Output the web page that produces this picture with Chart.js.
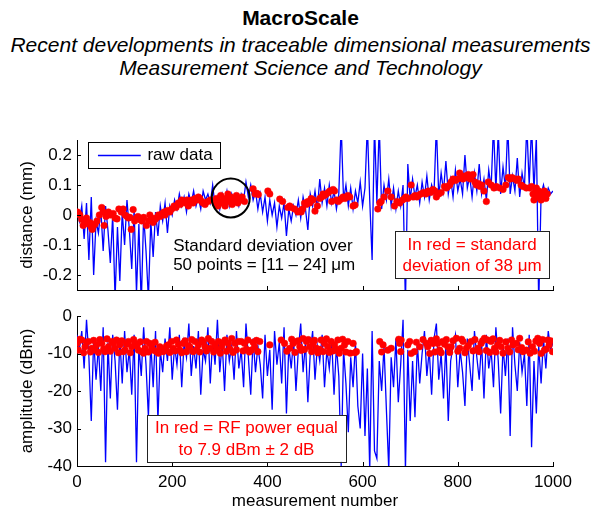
<!DOCTYPE html>
<html><head><meta charset="utf-8">
<script src="https://cdn.jsdelivr.net/npm/chart.js@4.4.1/dist/chart.umd.min.js"></script>
<style>
html,body{margin:0;padding:0;background:#fff;}
body{width:601px;height:512px;position:relative;overflow:hidden;font-family:"Liberation Sans",Arial,sans-serif;color:#000;}
#t1{position:absolute;left:0;width:601px;top:6px;text-align:center;font-weight:bold;font-size:21px;line-height:24px;}
#t2{position:absolute;left:0;width:601px;top:33px;text-align:center;font-style:italic;font-size:21px;line-height:23px;}
canvas{position:absolute;left:0;top:0;}
</style></head><body>
<div id="t1">MacroScale</div>
<div id="t2">Recent developments in traceable dimensional measurements<br>Measurement Science and Technology</div>
<canvas id="c1" width="601" height="512"></canvas>
<canvas id="c2" width="601" height="512"></canvas>
<script>
// ---------------- DATA ----------------
// raw data is shown every 5th measurement number (0, 5, 10, ..., 1000)
const measurementStep = 5;
const xTickValues = [0, 200, 400, 600, 800, 1000];
const xTickLabels = ['0', '200', '400', '600', '800', '1000'];
const distanceTickValues = [-0.2, -0.1, 0, 0.1, 0.2];
const distanceTickLabels = ['-0.2', '-0.1', '0', '0.1', '0.2'];
const amplitudeTickValues = [-40, -30, -20, -10, 0];
const amplitudeTickLabels = ['-40', '-30', '-20', '-10', '0'];

// distance (mm), raw data
const distanceRaw = [
 0.02,-0.02,0.03,-0.08,0.04,-0.15,0.06,-0.20,-0.02,-0.06,0.02,-0.12,0.03,-0.05,-0.16,0.00,-0.28,-0.04,-0.22,0.01,
 -0.10,0.05,-0.05,-0.18,0.02,-0.26,-0.03,-0.30,0.00,-0.12,-0.28,-0.02,-0.14,0.01,-0.07,0.03,-0.02,0.04,-0.06,0.03,
 0.00,0.05,0.02,0.07,0.03,0.06,0.01,0.07,0.04,0.08,0.03,0.06,0.02,0.08,0.05,0.07,0.04,0.10,0.03,0.06,
 0.02,0.07,0.04,0.08,0.03,0.07,0.04,0.06,0.03,0.07,0.05,0.11,0.06,0.10,0.05,0.08,0.02,0.07,0.01,0.06,
 -0.02,0.05,0.00,0.04,-0.04,0.03,-0.01,0.04,-0.07,0.02,-0.02,0.03,0.00,0.05,-0.01,0.06,0.02,-0.05,0.07,0.03,
 0.08,0.02,0.12,0.04,0.09,0.03,0.10,0.04,0.08,0.02,0.07,0.30,0.05,0.10,0.03,0.09,0.02,0.08,0.04,0.11,
 0.03,0.09,0.30,0.05,-0.15,0.30,0.04,0.30,0.02,0.10,0.05,0.12,0.03,0.09,0.02,0.08,0.03,0.10,-0.30,0.17,
 0.05,0.12,0.06,0.10,0.04,0.11,0.06,0.13,0.05,0.10,0.07,0.30,0.06,0.14,0.08,0.18,0.07,0.12,0.06,0.15,
 0.08,0.12,0.07,0.20,0.09,0.13,0.06,0.14,0.08,0.17,0.07,0.12,0.05,0.15,0.09,0.30,0.08,0.28,0.07,0.16,
 0.09,0.30,0.07,0.13,0.08,0.19,0.06,0.14,0.09,0.30,0.10,0.30,0.08,0.26,-0.30,0.07,0.10,0.06,0.09,0.07,
 0.08
];
// distance (mm), points within the standard deviation (red)
const distanceRedX = [
 1,3,6,10,13,16,20,24,27,30,32,35,38,42,47,52,55,57,61,66,70,76,80,84,88,93,97,101,105,108,111,114,118,121,125,128,132,136,140,146,
 150,153,157,160,164,167,171,175,179,183,185,190,195,199,204,208,213,217,220,224,228,231,234,238,241,244,248,252,255,258,262,265,269,275,280,
 290,293,296,299,302,305,308,311,314,317,320,323,326,329,332,335,338,341,344,347,
 352,370,374,378,381,401,405,426,432,443,447,450,457,464,468,471,474,478,482,485,489,492,496,500,505,510,514,517,520,524,528,531,535,538,541,545,549,552,556,559,563,566,569,573,580,584,
 632,636,639,645,653,660,667,672,678,684,688,691,695,702,706,710,714,717,722,728,733,738,743,748,752,755,760,765,772,776,779,783,786,790,795,800,804,808,811,815,818,822,826,829,832,836,839,843,847,850,855,860,864,870,876,881,888,895,901,906,910,914,920,924,927,933,937,944,951,955,958,960,962,965,967,970,972,975,977,980,982,985,988
];
const distanceRedY = [
 0.01,0.005,0.0,-0.015,-0.035,-0.02,-0.01,-0.03,-0.025,-0.04,-0.048,-0.035,-0.03,-0.02,0.0,0.025,0.01,-0.035,-0.005,0.01,0.0,0.005,-0.01,-0.013,0.02,0.01,0.02,0.0,-0.005,-0.01,-0.008,-0.048,0.018,-0.02,-0.01,-0.005,-0.015,-0.02,-0.008,-0.035,
 -0.02,0.0,-0.01,-0.025,-0.015,-0.01,0.0,-0.005,0.005,0.01,0.0,0.015,0.01,0.02,0.03,0.025,0.04,0.035,0.05,0.045,0.04,0.05,0.03,0.045,0.05,0.04,0.055,0.05,0.06,0.055,0.045,0.04,0.035,0.045,0.05,
 0.04,0.055,0.03,0.045,0.065,0.04,0.055,0.03,0.05,0.07,0.045,0.06,0.035,0.055,0.045,0.065,0.04,0.055,0.05,0.06,
 0.045,0.087,0.07,0.072,0.068,0.08,0.07,0.053,0.045,0.025,0.03,0.025,0.02,0.01,0.013,0.01,0.02,0.04,0.035,0.045,0.04,0.055,0.05,0.013,0.03,0.055,0.06,0.07,0.065,0.07,0.075,0.08,0.045,0.085,0.08,0.05,0.045,0.05,0.055,0.06,0.055,0.06,0.065,0.06,0.03,0.033,
 0.02,0.04,0.045,0.06,0.08,0.06,0.03,0.045,0.04,0.05,0.055,0.06,0.055,0.1,0.06,0.065,0.06,0.065,0.07,0.075,0.07,0.08,0.075,0.085,0.08,0.06,0.07,0.075,0.095,0.09,0.095,0.1,0.11,0.12,0.115,0.12,0.14,0.125,0.12,0.13,0.125,0.135,0.12,0.13,0.135,0.11,0.1,0.105,0.095,0.1,0.08,0.045,0.11,0.1,0.09,0.095,0.09,0.085,0.1,0.125,0.12,0.125,0.12,0.115,0.12,0.1,0.095,0.09,0.09,0.095,0.07,0.05,0.075,0.09,0.06,0.08,0.065,0.05,0.075,0.06,0.08,0.055,0.07
];

// amplitude (dBm), raw data
const amplitudeRaw = [
 -5,-9,-4,-14,-1,-11,-28,-6,-17,-8,-20,-3,-39,-7,-22,-5,-12,-25,-6,-18,
 -4,-15,-9,-21,-5,-39,-8,-16,-3,-13,-27,-7,-19,-4,-28,-9,-15,-6,-12,-3,
 -17,-8,-13,-5,-19,-7,-11,-2,-16,-8,-14,-4,-21,-9,-12,-3,-18,-6,-13,-1,
 -15,-7,-20,-5,-12,-8,-17,-4,-14,-9,-19,-2,-11,-21,-6,-15,-8,-13,-22,-5,
 -16,-9,-25,-4,-13,-7,-18,-3,-26,-8,-14,-6,-20,-9,-2,-15,-7,-23,-10,-4,
 -17,-8,-12,-5,-19,-9,-14,-6,-21,-8,-16,-40,-9,-18,-31,-11,-19,-7,-24,-30,
 -10,-32,-14,-41,-4,-36,-38,-12,-20,-8,-25,-41,-11,-19,-6,-23,-13,-1,-41,-9,
 -28,-12,-27,-7,-18,-10,-4,-16,-9,-21,-6,-2,-17,-10,-22,-7,-28,-12,-8,-5,
 -19,-9,-15,-24,-6,-13,-20,-4,-11,-17,-7,-22,-5,-14,-9,-19,-3,-12,-26,-8,
 -16,-6,-32,-3,-13,-20,-7,-15,-10,-24,-5,-35,-12,-26,-8,-18,-6,-14,-4,-9,
 -7
];
// amplitude (dBm), points with RF power 7.9 dBm +/- 2 dB (red)
const amplitudeRedX = [
 0,3,6,10,14,17,20,24,28,31,35,38,41,45,48,52,56,59,63,66,70,73,77,80,83,87,90,94,97,101,104,108,112,115,119,122,126,129,133,136,140,143,146,150,153,157,160,164,167,171,174,178,181,185,188,192,195,199,202,206,209,213,216,220,223,227,230,234,237,241,244,248,251,255,258,262,265,269,272,276,280,283,287,290,294,297,301,304,307,311,314,318,321,325,328,332,335,339,
 345,349,352,356,359,362,366,370,373,377,380,384,405,429,436,441,447,451,454,458,461,465,468,471,475,478,482,486,489,493,496,499,503,506,510,513,517,520,524,527,530,534,538,541,545,548,551,555,558,562,565,569,574,580,584,587,
 636,640,643,653,660,676,678,680,681,695,699,702,709,713,720,727,734,737,741,744,748,752,755,758,762,765,768,772,776,779,783,786,790,797,800,804,808,811,815,818,822,828,832,836,842,845,849,852,856,860,863,867,870,874,877,880,884,888,891,895,901,905,909,913,916,923,927,930,934,937,944,948,952,957,961,964,968,972,975,978,982,986,989,992,995,999
];
const amplitudeRedY = [
 -7.3,-9.1,-6.2,-6.4,-9.8,-8.2,-7.0,-6.8,-9.6,-8.6,-6.5,-9.1,-7.7,-9.7,-6.3,-7.3,-8.8,-9.5,-6.1,-8.2,-9.4,-6.8,-7.2,-8.6,-6.4,-9.8,-7.7,-6.6,-9.5,-9.1,-7.5,-6.8,-9.8,-8.2,-6.3,-7.3,-8.0,-9.1,-6.9,-9.5,-9.9,-8.6,-6.8,-9.6,-7.3,-8.4,-9.1,-7.0,-9.5,-9.9,-8.2,-8.7,-9.5,-9.2,-8.0,-7.7,-9.7,-6.8,-8.6,-9.3,-6.4,-7.6,-9.1,-9.8,-7.3,-6.6,-9.5,-7.9,-8.2,-6.3,-9.5,-6.8,-9.0,-7.7,-9.6,-6.4,-7.0,-8.2,-9.3,-6.0,-8.6,-6.8,-9.6,-7.7,-8.9,-6.8,-9.9,-8.2,-7.1,-6.4,-9.4,-7.3,-8.8,-6.0,-9.7,-7.3,-9.0,-6.8,
 -6.8,-9.3,-7.3,-8.9,-6.4,-9.6,-9.1,-7.0,-8.2,-6.5,-9.5,-6.8,-7.7,-6.4,-7.3,-9.4,-8.6,-6.2,-7.3,-9.7,-6.8,-6.6,-8.2,-9.2,-6.0,-8.9,-6.8,-6.3,-8.2,-9.5,-7.3,-6.5,-8.6,-9.8,-8.9,-6.4,-9.5,-7.3,-6.1,-8.2,-9.7,-6.8,-9.3,-7.7,-8.9,-6.4,-9.9,-8.6,-6.2,-7.7,-9.6,-6.8,-9.9,-7.3,-9.8,-9.5,
 -6.8,-9.6,-7.7,-9.1,-8.6,-6.2,-7.3,-9.5,-6.4,-7.7,-6.8,-10.0,-9.5,-7.0,-8.2,-6.3,-7.3,-8.2,-10.0,-6.5,-7.3,-9.6,-6.1,-7.3,-9.1,-9.8,-6.8,-7.5,-6.3,-8.2,-9.7,-8.2,-6.6,-5.95,-9.4,-8.6,-6.2,-6.8,-9.8,-8.6,-7.9,-6.8,-9.3,-6.3,-8.6,-9.5,-7.3,-6.6,-5.95,-9.2,-6.4,-9.7,-6.8,-6.1,-8.6,-9.6,-7.7,-6.5,-8.2,-9.9,-6.9,-8.6,-9.6,-6.4,-7.7,-7.3,-9.0,-5.95,-8.4,-9.5,-9.1,-6.9,-9.9,-8.2,-9.4,-6.7,-5.95,-7.3,-10.0,-6.3,-9.1,-8.8,-6.4,-7.7,-6.6,-9.5
];

// ---------------- CHART HELPERS ----------------
const FONT_FAMILY = '"Liberation Sans", Arial, sans-serif';
const axisFont = {family: FONT_FAMILY, size: 17};

function toPoints(xs, ys) { return xs.map((x, i) => ({x: x, y: ys[i]})); }
const distanceRawPts = toPoints(distanceRaw.map((_, i) => i * measurementStep), distanceRaw);
const amplitudeRawPts = toPoints(amplitudeRaw.map((_, i) => i * measurementStep), amplitudeRaw);
const distanceRedPts = toPoints(distanceRedX, distanceRedY);
const amplitudeRedPts = toPoints(amplitudeRedX, amplitudeRedY);

const inwardTicks = {
  id: 'inwardTicks',
  afterDraw(chart) {
    const {ctx, chartArea: a} = chart;
    const xs = chart.scales.x, ys = chart.scales.y;
    ctx.save();
    ctx.strokeStyle = '#000';
    ctx.lineWidth = 1;
    ctx.beginPath();
    xs.ticks.forEach(t => {
      const px = Math.round(xs.getPixelForValue(t.value)) + 0.5;
      ctx.moveTo(px, a.bottom); ctx.lineTo(px, a.bottom - 4);
    });
    ys.ticks.forEach(t => {
      const py = Math.round(ys.getPixelForValue(t.value)) + 0.5;
      ctx.moveTo(a.left, py); ctx.lineTo(a.left + 4, py);
    });
    ctx.stroke();
    ctx.restore();
  }
};

function textBox(ctx, x0, y0, x1, y1, lines, color, ys) {
  ctx.save();
  ctx.fillStyle = '#fff';
  ctx.fillRect(x0, y0, x1 - x0, y1 - y0);
  ctx.strokeStyle = '#222';
  ctx.lineWidth = 1;
  ctx.strokeRect(Math.round(x0) + 0.5, Math.round(y0) + 0.5, Math.round(x1 - x0), Math.round(y1 - y0));
  ctx.fillStyle = color;
  ctx.font = '17px ' + FONT_FAMILY;
  ctx.textAlign = 'center';
  ctx.textBaseline = 'middle';
  lines.forEach((l, i) => ctx.fillText(l, (x0 + x1) / 2, ys[i]));
  ctx.restore();
}

const topAnnotations = {
  id: 'topAnnotations',
  afterDraw(chart) {
    const {ctx} = chart;
    const X = v => chart.scales.x.getPixelForValue(v);
    const Y = v => chart.scales.y.getPixelForValue(v);
    // circle around a 50-point window
    ctx.save();
    ctx.strokeStyle = '#000';
    ctx.lineWidth = 2;
    ctx.beginPath();
    ctx.ellipse(X(323), Y(0.057), 19, 19.5, 0, 0, Math.PI * 2);
    ctx.stroke();
    ctx.restore();
    // legend
    ctx.save();
    const lx0 = X(23), ly0 = Y(0.245), lx1 = X(300), ly1 = Y(0.158);
    ctx.fillStyle = '#fff';
    ctx.fillRect(lx0, ly0, lx1 - lx0, ly1 - ly0);
    ctx.strokeStyle = '#000';
    ctx.lineWidth = 1;
    ctx.strokeRect(Math.round(lx0) + 0.5, Math.round(ly0) + 0.5, Math.round(lx1 - lx0), Math.round(ly1 - ly0));
    const ly = (ly0 + ly1) / 2;
    ctx.strokeStyle = '#0000ff';
    ctx.lineWidth = 1.3;
    ctx.beginPath();
    ctx.moveTo(X(44), Math.round(ly) + 0.5); ctx.lineTo(X(134), Math.round(ly) + 0.5);
    ctx.stroke();
    ctx.fillStyle = '#000';
    ctx.font = '17px ' + FONT_FAMILY;
    ctx.textBaseline = 'middle';
    ctx.textAlign = 'left';
    ctx.fillText('raw data', X(148), ly + 1);
    // black annotation
    ctx.fillText('Standard deviation over', X(202), Y(-0.103));
    ctx.fillText('50 points = [11 \u2013 24] \u03bcm', X(202), Y(-0.167));
    ctx.restore();
    // red box
    textBox(ctx, X(668), Y(-0.053), X(992), Y(-0.21),
      ['In red = standard', 'deviation of 38 \u03bcm'], '#ff0000', [Y(-0.1), Y(-0.171)]);
  }
};

const bottomAnnotations = {
  id: 'bottomAnnotations',
  afterDraw(chart) {
    const {ctx} = chart;
    const X = v => chart.scales.x.getPixelForValue(v);
    const Y = v => chart.scales.y.getPixelForValue(v);
    textBox(ctx, X(147), Y(-26.4), X(565), Y(-38.9),
      ['In red = RF power equal', 'to 7.9 dBm \u00b1 2 dB'], '#ff0000', [Y(-30.0), Y(-35.9)]);
  }
};

function makeChart(canvasId, cfg) {
  return new Chart(document.getElementById(canvasId), {
    type: 'scatter',
    data: {datasets: [
      {label: 'in red', data: cfg.red, showLine: false, pointRadius: 3.3, pointHoverRadius: 3.3,
       pointBackgroundColor: '#ff0000', pointBorderColor: '#ff0000', pointBorderWidth: 0.5, order: 0},
      {label: 'raw data', data: cfg.raw, showLine: true, borderColor: '#0000ff', borderWidth: 1.3,
       pointRadius: 0, pointHoverRadius: 0, fill: false, tension: 0, order: 1}
    ]},
    options: {
      responsive: false, animation: false, devicePixelRatio: 1, events: [],
      layout: {padding: cfg.padding},
      plugins: {legend: {display: false}, tooltip: {enabled: false}, title: {display: false}},
      scales: {
        x: {
          type: 'linear', min: 0, max: 1000,
          afterBuildTicks: s => { s.ticks = xTickValues.map(v => ({value: v})); },
          ticks: {display: cfg.xLabels, callback: (v, i) => xTickLabels[i], font: axisFont, color: '#000', padding: 6, maxRotation: 0, autoSkip: false},
          grid: {display: false, drawTicks: false},
          border: {display: true, color: '#000', width: 1},
          title: {display: !!cfg.xTitle, text: cfg.xTitle || '', font: axisFont, color: '#000', padding: {top: 0, bottom: 0}},
          afterFit: s => { s.height = cfg.xHeight; }
        },
        y: {
          type: 'linear', min: cfg.yMin, max: cfg.yMax,
          afterBuildTicks: s => { s.ticks = cfg.yTicks.map(v => ({value: v})); },
          ticks: {callback: (v, i) => cfg.yLabels[i], font: axisFont, color: '#000', padding: 5, autoSkip: false},
          grid: {display: false, drawTicks: false},
          border: {display: true, color: '#000', width: 1},
          title: {display: true, text: cfg.yTitle, font: axisFont, color: '#000', padding: {top: 17, bottom: 0}},
          afterFit: s => { s.width = 77; }
        }
      }
    },
    plugins: [inwardTicks, cfg.annot]
  });
}

makeChart('c1', {
  red: distanceRedPts, raw: distanceRawPts,
  padding: {top: 140, right: 48, bottom: 222, left: 0},
  xLabels: false, xHeight: 0, xTitle: null,
  yMin: -0.25, yMax: 0.25, yTicks: distanceTickValues, yLabels: distanceTickLabels,
  yTitle: 'distance (mm)', annot: topAnnotations
});
makeChart('c2', {
  red: amplitudeRedPts, raw: amplitudeRawPts,
  padding: {top: 316, right: 48, bottom: 0, left: 0},
  xLabels: true, xHeight: 46, xTitle: 'measurement number',
  yMin: -40, yMax: 0, yTicks: amplitudeTickValues, yLabels: amplitudeTickLabels,
  yTitle: 'amplitude (dBm)', annot: bottomAnnotations
});
</script>
</body></html>
